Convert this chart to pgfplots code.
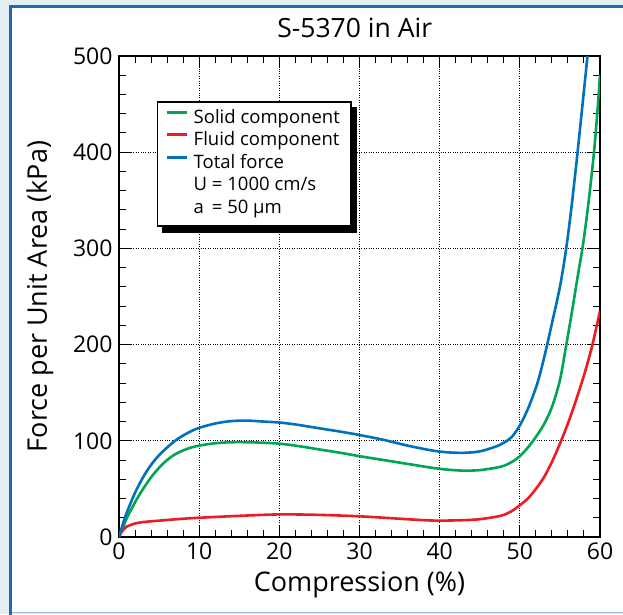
\documentclass[border=0pt]{standalone}
\usepackage{pgfplots}
\pgfplotsset{compat=1.18}
\usepackage{fontspec}
\setmainfont{Open Sans}
\definecolor{bgc}{HTML}{E3EEF2}
\definecolor{framec}{HTML}{1F69AE}
\definecolor{lframe}{HTML}{9CB6CF}
\definecolor{cgreen}{HTML}{00A651}
\definecolor{cred}{HTML}{ED1C24}
\definecolor{cblue}{HTML}{0072BC}
\begin{document}
\begin{tikzpicture}[x=1pt,y=1pt]
\useasboundingbox (-119,-77) rectangle (504,537);
\fill[bgc] (-119,-77) rectangle (504,537);
\fill[white] (-110,-76) rectangle (510,532);
\draw[lframe, line width=1pt] (-110,-75.5) -- (510,-75.5);
\draw[framec, line width=3pt] (-108.5,-80) -- (-108.5,530.5) -- (510,530.5);
\begin{axis}[
  scale only axis, width=481pt, height=481pt,
  xmin=0, xmax=60, ymin=0, ymax=500,
  xtick={0,10,...,60}, ytick={0,100,...,500},
  minor x tick num=4, minor y tick num=4,
  tick align=inside,
  major tick length=12pt, minor tick length=7pt,
  grid=major, grid style={black, dotted, line width=0.7pt},
  axis line style={line width=1.3pt},
  every tick/.style={black, line width=1pt},
  tick label style={font=\fontsize{23}{27}\selectfont},
  xticklabel style={yshift=-2pt},
  yticklabel style={xshift=-3pt},
  /pgf/number format/assume math mode=true,
  title={S-5370 in Air},
  title style={font=\fontsize{26.5}{30}\selectfont,
    at={(axis description cs:0.49,1.025)}, anchor=base},
  xlabel={Compression (\%)},
  ylabel={Force per Unit Area (kPa)},
  label style={font=\fontsize{27}{31}\selectfont},
  xlabel style={at={(axis description cs:0.5,-0.1143)}, anchor=base},
  ylabel style={at={(axis description cs:-0.1497,0.5)}, anchor=base},
  legend cell align=left,
  legend style={name=lg, at={(axis description cs:0.078,0.906)}, anchor=north west,
    draw=black, line width=1.4pt, fill=white,
    font=\fontsize{18.5}{21}\selectfont,
    row sep=0.5pt, inner xsep=8.5pt, inner ysep=6pt,
    nodes={text height=13pt, text depth=4pt, inner sep=2.5pt}},
  legend image code/.code={\draw[#1, line width=3pt] (0pt,6.5pt) -- (20pt,6.5pt); \path[draw=none, fill=none] (0pt,0pt) -- (24pt,0pt);},
  every axis plot/.append style={line width=2.6pt, smooth, no markers},
]
\addplot[cgreen] coordinates {
(0,0) (0.5,10) (1,20) (2,36) (3,50) (4,62) (5,72) (6,80) (7,86) (8,90) (9,93)
(10,95) (12,97.5) (14,98.5) (16,98.5) (18,98) (20,97) (22,95) (25,91) (28,87)
(30,84) (33,80) (36,76) (39,72) (41,70) (43,69) (45,69.5) (47,72) (48,74)
(49,78) (50,84) (51,93) (52,104) (53,117) (54,135) (55,163) (55.8,200)
(56.5,234) (57.2,270) (57.9,305) (58.6,350) (59.25,400) (59.7,445) (60,480)};
\addlegendentry{Solid component}
\addplot[cred] coordinates {
(0,0) (0.3,5) (0.7,9) (1,11) (2,14) (3,15.5) (5,17) (8,19) (10,20) (15,22)
(20,23.5) (25,23) (30,21.5) (35,19) (38,17.5) (40,17) (43,17.5) (45,18.5)
(47,21) (48,23) (49,27) (50,33) (51,40) (52,50) (53,62) (54,78) (55,97)
(56,118) (57,142) (58,168) (59,198) (60,235)};
\addlegendentry{Fluid component}
\addplot[cblue] coordinates {
(0,0) (0.5,14) (1,26) (2,46) (3,62) (4,75) (5,85) (6,93) (7,100) (8,105.5)
(9,110) (10,113.5) (12,118) (14,120.5) (16,121) (18,120) (20,119) (22,117)
(25,113) (28,109) (30,106) (33,101) (36,95) (39,90) (41,88) (43,87.5)
(45,89) (47,94) (48,98) (49,104) (50,116) (51,133) (52,155) (52.6,172)
(53.3,196) (54,222) (55,260) (55.75,298) (56.4,340) (57.1,392) (57.8,448)
(58.5,505)};
\addlegendentry{Total force}
\addlegendimage{empty legend}
\addlegendentry{U = 1000 cm/s}
\addlegendimage{empty legend}
\addlegendentry{a\ \,= 50 µm}
\end{axis}
\fill[black] ([xshift=5pt,yshift=-6pt]lg.south west) rectangle ([xshift=5pt]lg.south east);
\fill[black] ([yshift=-6pt]lg.north east) rectangle ([xshift=5pt,yshift=-6pt]lg.south east);
\end{tikzpicture}
\end{document}
